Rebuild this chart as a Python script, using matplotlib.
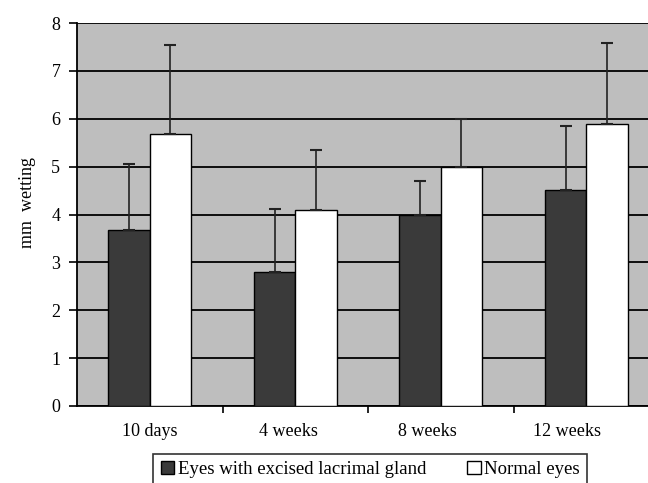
import matplotlib.pyplot as plt
import numpy as np

categories = ['10 days', '4 weeks', '8 weeks', '12 weeks']
excised = [3.67, 2.8, 3.99, 4.51]
excised_err = [1.38, 1.32, 0.71, 1.34]
normal = [5.68, 4.09, 4.99, 5.89]
normal_err = [1.86, 1.26, 1.01, 1.69]
labels = ['Eyes with excised lacrimal gland', 'Normal eyes']

plt.rcParams['font.family'] = ['Liberation Serif', 'DejaVu Serif']

fig = plt.figure(figsize=(6.48, 4.83), dpi=100)
ax = fig.add_axes([77/648, 77/483, 1 - 77/648, 383/483])
ax.set_facecolor('#bebebe')

x = np.arange(len(categories))
w = 0.285
ax.set_axisbelow(True)
ax.yaxis.grid(True, color='black', linewidth=1.3)
ax.bar(x - w/2, excised, w, color='#3a3a3a', edgecolor='black', linewidth=1,
       yerr=[np.zeros(4), excised_err], error_kw=dict(ecolor='#222222', elinewidth=1.2, capsize=4, capthick=1.5),
       label=labels[0], zorder=3)
ax.bar(x + w/2, normal, w, color='white', edgecolor='black', linewidth=1,
       yerr=[np.zeros(4), normal_err], error_kw=dict(ecolor='#222222', elinewidth=1.2, capsize=4, capthick=1.5),
       label=labels[1], zorder=3)

ax.set_xlim(-0.5, -0.5 + 571/145.5)
ax.set_ylim(0, 8)
ax.set_yticks(range(0, 9))
ax.tick_params(axis='y', labelsize=13, length=6, width=1.2, direction='out', pad=6)
# labels sit a little left of the group centres in the original
ax.set_xticks(x * 0.955)
ax.set_xticklabels(categories, fontsize=13)
ax.tick_params(axis='x', which='major', length=0, pad=12)
ax.set_xticks([0.5, 1.5, 2.5], minor=True)
ax.tick_params(axis='x', which='minor', length=5, width=1.2, direction='out')
for s in ['top', 'right']:
    ax.spines[s].set_visible(False)
ax.spines['left'].set_linewidth(1.3)
ax.spines['bottom'].set_linewidth(1.3)

fig.text(27/648, 1 - 203/483, 'mm  wetting', fontsize=13, rotation=90, ha='center', va='center')

leg = fig.legend(loc='lower left', bbox_to_anchor=(144/648, -12/483), ncol=2, fontsize=13.5,
                 frameon=True, fancybox=False, edgecolor='black', handlelength=0.7,
                 handleheight=0.7, handletextpad=0.2, columnspacing=2.2, borderpad=0.4)
leg.get_frame().set_linewidth(1.2)

fig.savefig('out.png', dpi=100)
